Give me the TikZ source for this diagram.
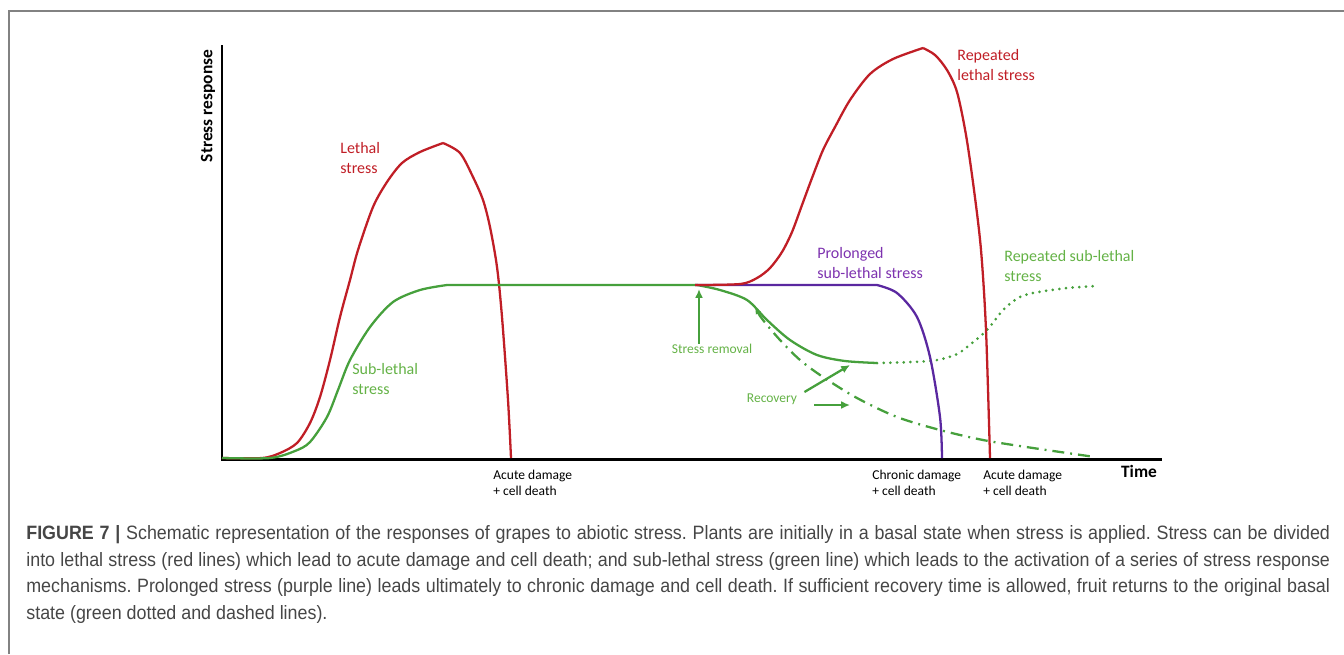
\documentclass[tikz,border=0pt]{standalone}
\usepackage{fontspec}
\setmainfont{Carlito}
\newfontfamily\capfont[FakeStretch=0.925]{Liberation Sans}
\usetikzlibrary{positioning,arrows.meta}
\definecolor{lethalred}{RGB}{192,30,38}
\definecolor{subgreen}{RGB}{70,160,60}
\definecolor{labgreen}{RGB}{100,178,70}
\definecolor{prolpurple}{RGB}{90,40,160}
\definecolor{labpurple}{RGB}{125,50,175}
\definecolor{capgray}{RGB}{70,70,70}
\definecolor{framegray}{RGB}{130,130,130}
\frenchspacing

\begin{document}
\begin{tikzpicture}[x=0.02cm,y=-0.02cm,
  axisline/.style={line width=1.7pt,black,line join=miter},
  redcurve/.style={line width=1.3pt,lethalred},
  greencurve/.style={line width=1.3pt,subgreen},
  purplecurve/.style={line width=1.3pt,prolpurple},
  curvelabel/.style={inner sep=0pt,align=left,anchor=west,font=\fontsize{9.1}{11.3}\selectfont},
  smalllabel/.style={inner sep=0pt,align=left,font=\fontsize{7.7}{9.1}\selectfont},
  axislabel/.style={inner sep=0pt,font=\fontsize{9.9}{11}\selectfont\bfseries},
  caplabel/.style={inner sep=0pt,anchor=base west,text=capgray,font=\capfont\fontsize{11}{13}\selectfont},
  recarrow/.style={line width=1.3pt,subgreen,-{Latex[length=5pt,width=4.5pt]}}]
\useasboundingbox (0,0) rectangle (1344,654);
% frame
\draw[framegray,line width=0.9pt] (9,654) -- (9,11) -- (1344,11);

% axes
\coordinate (origin) at (222,459);
\coordinate (ytop) at (222,45);
\coordinate (xend) at (1162,459);
\draw[axisline] (ytop) -- (origin) -- (xend);
\node[axislabel,rotate=90] (yname) at (208,106) {Stress response};
\node[axislabel] (xname) at (1139,471) {Time};

% lethal stress
\draw[redcurve] plot[smooth] coordinates {(222,458) (262,458) (280,453) (297,443) (310,423) (320,397) (330,360) (340,317) (350,280) (358,250) (373,207) (387,182) (402,163) (420,152) (443,143)};
\draw[redcurve] plot[smooth] coordinates {(443,143) (460,153) (473,177) (483,200) (490,227) (497,267) (502,317) (508,400) (511,458)};

% sub-lethal stress
\draw[greencurve] plot[smooth] coordinates {(222,458) (270,458) (295,451) (310,442) (327,417) (338,390) (350,360) (370,327) (393,302) (420,290) (447,285)} -- (697,285);
\draw[greencurve] plot[smooth] coordinates {(697,285) (720,290) (747,300) (767,320) (790,340) (817,355) (845,361) (877,363)};
\draw[greencurve,line cap=round,dash pattern=on 0pt off 3.8pt,line width=1.7pt] plot[smooth] coordinates {(877,363) (930,361) (955,355) (967,347) (987,330) (1003,310) (1018,298) (1033,293) (1067,288) (1097,286)};
\draw[greencurve,dash pattern=on 6.8pt off 3.4pt on 1.1pt off 3.4pt,{Latex[length=4pt,width=3.5pt]}-] plot[smooth] coordinates {(755,307) (763,320) (780,340) (800,360) (823,377) (857,398) (897,417) (940,430) (983,440) (1033,448) (1095,457)};

% prolonged stress
\draw[purplecurve] (695,285) -- (877,285) plot[smooth] coordinates {(877,285) (897,293) (917,317) (930,357) (940,417) (942,458)};

% repeated lethal stress
\draw[redcurve] plot[smooth] coordinates {(695,285) (740,284) (757,278) (770,268) (782,252) (792,232) (802,205) (812,178) (823,150) (835,127) (850,100) (870,74) (893,59) (923,48)};
\draw[redcurve] plot[smooth] coordinates {(923,48) (935,55) (947,70) (957,92) (966,135) (974,190) (981,250) (986,330) (990,458)};

% curve labels
\node[curvelabel,text=lethalred] (lethal) at (340,158) {Lethal\\stress};
\node[curvelabel,text=lethalred] (replethal) at (957,65) {Repeated\\lethal stress};
\node[curvelabel,text=labgreen] (sublethal) at (352,379) {Sub-lethal\\stress};
\node[curvelabel,text=labpurple] (prolonged) at (817,263) {Prolonged\\sub-lethal stress};
\node[curvelabel,text=labgreen] (repsub) at (1004,266) {Repeated sub-lethal\\stress};

% damage labels
\node[smalllabel,anchor=west] (acute1) at (493,483) {Acute damage\\+ cell death};
\node[smalllabel,anchor=west] (chronic) at (872,483) {Chronic damage\\+ cell death};
\node[smalllabel,anchor=west] (acute2) at (983,483) {Acute damage\\+ cell death};

% stress removal and recovery
\node[smalllabel,text=labgreen] (removal) at (712,349) {Stress removal};
\node[smalllabel,text=labgreen] (recovery) at (772,399) {Recovery};
\coordinate (rmtip) at (699,289);
\coordinate (rc1) at (850,365);
\coordinate (rc2) at (850,405);
\draw[recarrow] (removal.north -| rmtip) -- (rmtip);
\draw[recarrow] ([shift={(7,-7)}]recovery.east) -- (rc1);
\draw[recarrow] ([shift={(17,6)}]recovery.east) -- (rc2);

% caption
\node[caplabel] (cap1) at (26,539) {\makebox[26.08cm][s]{\textbf{FIGURE 7} \textbf{|} Schematic representation of the responses of grapes to abiotic stress. Plants are initially in a basal state when stress is applied. Stress can be divided}};
\node[caplabel] (cap2) at (26,566) {\makebox[26.08cm][s]{into lethal stress (red lines) which lead to acute damage and cell death; and sub-lethal stress (green line) which leads to the activation of a series of stress response}};
\node[caplabel] (cap3) at (26,592) {\makebox[26.08cm][s]{mechanisms. Prolonged stress (purple line) leads ultimately to chronic damage and cell death. If sufficient recovery time is allowed, fruit returns to the original basal}};
\node[caplabel] (cap4) at (26,619) {state (green dotted and dashed lines).};
\end{tikzpicture}
\end{document}
